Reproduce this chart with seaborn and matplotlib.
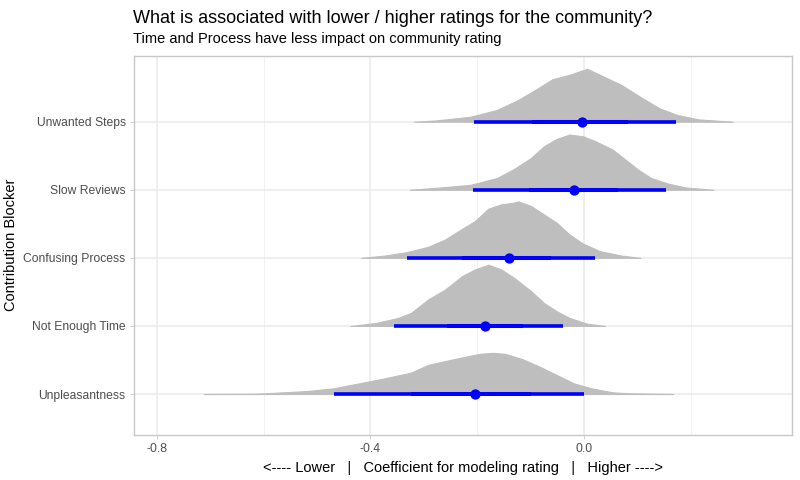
import matplotlib
matplotlib.use("Agg")
import matplotlib.pyplot as plt
import seaborn as sns
import pandas as pd

# blockers, bottom to top
blockers = ["Unpleasantness", "Not Enough Time", "Confusing Process", "Slow Reviews", "Unwanted Steps"]

# posterior density profiles (x = coefficient, h = relative density)
dens_x = {
    "Unwanted Steps": [-0.318, -0.276, -0.212, -0.163, -0.123, -0.091, -0.059, -0.027, 0.006, 0.030,
                       0.070, 0.110, 0.142, 0.175, 0.215, 0.279],
    "Slow Reviews": [-0.326, -0.276, -0.212, -0.163, -0.131, -0.099, -0.075, -0.051, -0.027, -0.002,
                     0.022, 0.054, 0.078, 0.102, 0.126, 0.159, 0.191, 0.243],
    "Confusing Process": [-0.417, -0.373, -0.332, -0.292, -0.260, -0.228, -0.204, -0.179, -0.155, -0.131,
                          -0.123, -0.099, -0.075, -0.051, -0.027, -0.002, 0.030, 0.070, 0.106],
    "Not Enough Time": [-0.437, -0.389, -0.348, -0.324, -0.292, -0.260, -0.228, -0.204, -0.179, -0.155,
                        -0.131, -0.099, -0.075, -0.051, -0.027, 0.006, 0.040],
    "Unpleasantness": [-0.712, -0.614, -0.578, -0.518, -0.469, -0.421, -0.373, -0.324, -0.292, -0.244,
                       -0.196, -0.171, -0.147, -0.115, -0.083, -0.051, -0.019, 0.014, 0.054, 0.086, 0.167],
}
dens_h = {
    "Unwanted Steps": [0, 1.3, 5, 11.7, 21.7, 31.7, 42.3, 46.7, 52.7, 46.7, 36.7, 23.3, 13.3, 6.7, 2.3, 0],
    "Slow Reviews": [0, 2, 5, 11.7, 20.7, 31.7, 43.3, 50.7, 55, 53.3, 48.3, 40, 30, 20, 11.7, 6, 2.3, 0],
    "Confusing Process": [0, 2.3, 5.7, 11, 18.3, 29, 36.7, 49, 53.3, 55, 56.3, 51.7, 43.3, 35, 23.3, 14.3,
                          6.7, 2.3, 0],
    "Not Enough Time": [0, 3, 8, 13, 26.3, 36.3, 49.7, 56.3, 61, 56.3, 48, 34.7, 23, 14.7, 8, 2.3, 0],
    "Unpleasantness": [0, 0.3, 1.3, 3, 5.7, 10.7, 15.7, 21.3, 29, 34.7, 40, 41, 40, 34.7, 27.3, 19, 10.7,
                       5.7, 1.7, 0.7, 0],
}

# point estimate and intervals (66% thick, 95% thin)
median = [-0.204, -0.185, -0.141, -0.019, -0.004]
lo95 = [-0.469, -0.355, -0.332, -0.207, -0.205]
hi95 = [0.000, -0.039, 0.020, 0.153, 0.173]
lo66 = [-0.324, -0.256, -0.229, -0.102, -0.097]
hi66 = [-0.099, -0.115, -0.061, 0.064, 0.082]

sns.set_theme(style="whitegrid")
plt.rcParams["font.family"] = ["Liberation Sans", "DejaVu Sans"]

fig = plt.figure(figsize=(8, 4.8), dpi=100)
ax = fig.add_axes([0.1675, 0.094, 0.8225, 0.79])

hmax = max(max(v) for v in dens_h.values())
for i, b in enumerate(blockers):
    y0 = i + 1
    hs = [y0 + h / hmax * 0.9 for h in dens_h[b]]
    ax.fill_between(dens_x[b], y0, hs, color="#BEBEBE", lw=0.8, edgecolor="#BEBEBE", zorder=2)

df = pd.DataFrame({"blocker": blockers, "y": range(1, 6), "median": median,
                   "lo95": lo95, "hi95": hi95, "lo66": lo66, "hi66": hi66})
ax.hlines(df["y"], df["lo95"], df["hi95"], color="blue", lw=2.6, zorder=3)
ax.hlines(df["y"], df["lo66"], df["hi66"], color="blue", lw=2.9, zorder=3)
sns.scatterplot(data=df, x="median", y="y", color="blue", s=55, edgecolor="blue", linewidth=0,
                zorder=4, ax=ax, legend=False)

ax.set_xlim(-0.843, 0.39)
ax.set_ylim(0.4, 5.97)
ax.set_xticks([-0.8, -0.4, 0.0])
ax.set_xticklabels(["-0.8", "-0.4", "0.0"])
ax.set_xticks([-0.6, -0.2, 0.2], minor=True)
ax.set_yticks(range(1, 6))
ax.set_yticklabels(blockers)

ax.grid(which="major", color="#EBEBEB", lw=1.1)
ax.grid(which="minor", axis="x", color="#F2F2F2", lw=0.7)
ax.grid(which="minor", axis="y", visible=False)
ax.set_axisbelow(True)
for s in ax.spines.values():
    s.set_color("#C8C8C8")
    s.set_linewidth(1.0)
ax.tick_params(axis="both", which="major", length=3, width=0.6, color="#C8C8C8",
               labelsize=8.7, labelcolor="#4D4D4D", pad=3, left=True, bottom=True)
ax.tick_params(axis="both", which="minor", length=0)

ax.set_xlabel("<---- Lower   |   Coefficient for modeling rating   |   Higher ---->",
              fontsize=10.5, labelpad=4, color="black")
ax.set_ylabel("Contribution Blocker", fontsize=10.5, color="black")
ax.yaxis.set_label_coords(-0.177, 0.5)

fig.text(0.166, 0.962, "What is associated with lower / higher ratings for the community?",
         fontsize=13.0, va="center", ha="left", color="black")
fig.text(0.166, 0.919, "Time and Process have less impact on community rating",
         fontsize=10.5, va="center", ha="left", color="black")

fig.savefig("out.png", dpi=100)
